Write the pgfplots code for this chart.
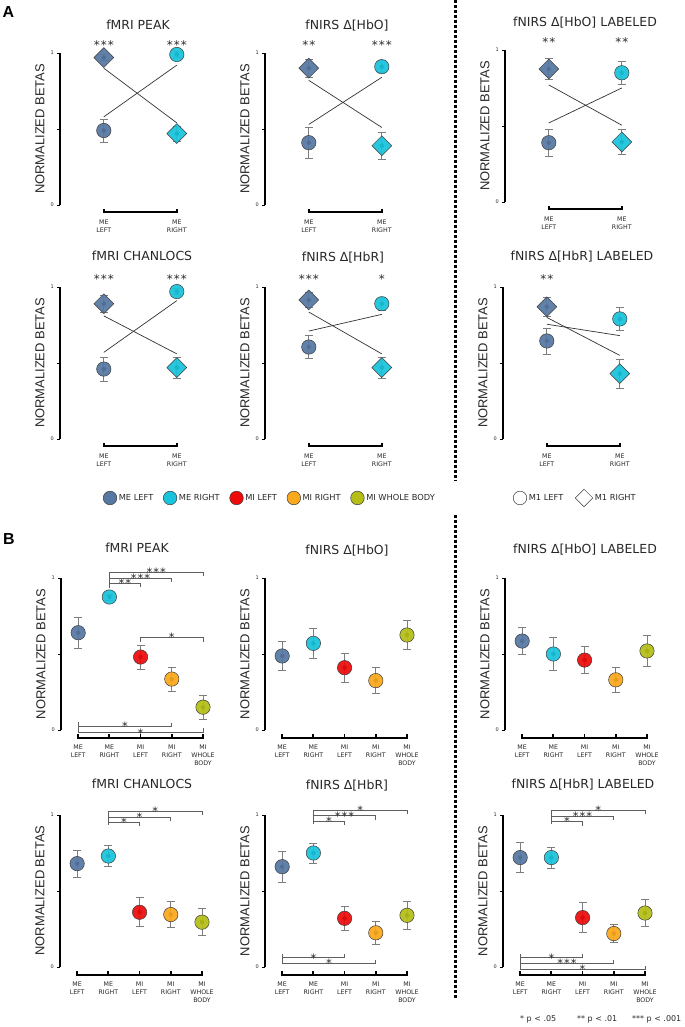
\documentclass[border=0pt]{standalone}
\usepackage{fontspec}
\setmainfont{DejaVu Sans}
\newfontfamily\arialf{Liberation Sans}
\usepackage{pgfplots}
\pgfplotsset{compat=1.18}

\definecolor{meleft}{RGB}{87,120,163}
\definecolor{meright}{RGB}{25,195,220}
\definecolor{mileft}{RGB}{236,12,12}
\definecolor{miright}{RGB}{250,168,28}
\definecolor{miwb}{RGB}{180,190,22}
\definecolor{mborder}{RGB}{60,60,60}
\definecolor{ebgray}{RGB}{125,125,125}
\definecolor{brgray}{RGB}{95,95,95}
\definecolor{txtgray}{RGB}{40,40,40}

\newcommand\fs[1]{\fontsize{#1}{#1}\selectfont}
\newcommand\sA{*}
\newcommand\sB{*\kern1bp*}
\newcommand\sC{*\kern1bp*\kern1bp*}

\pgfplotsset{
  base/.style={
    scale only axis, height=152bp, ymin=0, ymax=1, clip=false,
    axis lines*=left,
    x axis line style={draw=none},
    y axis line style={line width=2bp, black},
    xtick style={draw=none},
    ytick style={line width=0.6bp, black},
    tick align=outside, major tick length=3bp,
    ytick={0,0.5,1}, yticklabels={0,,1},
    yticklabel style={font=\fs{5}, text=txtgray, inner sep=1bp, xshift=-2bp},
    xticklabel style={font=\fontsize{6.3}{7.8}\selectfont, align=center, text=txtgray, inner sep=0pt, yshift=-12bp},
  },
  panelA/.style={base, width=146bp, xmin=0.4, xmax=2.4, xtick={1,2}, xticklabels={ME\\LEFT,ME\\RIGHT}},
  panelB/.style={base, width=157.6bp, xmin=0.45, xmax=5.5, xtick={1,2,3,4,5},
     xticklabels={ME\\LEFT,ME\\RIGHT,MI\\LEFT,MI\\RIGHT,MI\\WHOLE\\BODY}},
  ebar/.style={forget plot, only marks, mark=none,
     error bars/.cd, y dir=both, y explicit,
     error bar style={color=ebgray, line width=0.7bp},
     error mark options={rotate=90, mark size=4bp, color=ebgray, line width=0.7bp}},
  cir/.style={forget plot, only marks, mark=*, mark size=7.2bp,
     mark options={fill=#1, draw=mborder, line width=0.5bp, fill opacity=0.93}},
  dia/.style={forget plot, only marks, mark=square*, mark size=7bp,
     mark options={rotate=45, fill=#1, draw=mborder, line width=0.5bp, fill opacity=0.93}},
  conn/.style={forget plot, no marks, line width=0.7bp, color=black!80},
}

% point with error bar: shape, colour, x, y, err
\newcommand\pt[5]{\addplot[ebar] coordinates {(#3,#4) +- (0,#5)};\addplot[#1=#2] coordinates {(#3,#4)};}
\newcommand\st[3]{\node[font=\fs{12}, text=txtgray, anchor=base, inner sep=0pt, yshift=-7bp] at (axis cs:#1,#2) {#3};}
% bracket: x1, x2, y, y-end at x1, y-end at x2, x of stars, stars
\newcommand\brT[7]{\draw[brgray, line width=0.8bp] (axis cs:#1,#4) -- (axis cs:#1,#3) -- (axis cs:#2,#3) -- (axis cs:#2,#5);
  \node[font=\fs{11.5}, text=txtgray, anchor=base, inner sep=0pt, yshift=-4.3bp] at (axis cs:#6,#3) {#7};}
\newcommand\axA{\draw[line width=1.8bp] (axis cs:1,-0.026) -- (axis cs:1,-0.048) -- (axis cs:2,-0.048) -- (axis cs:2,-0.026);}
\newcommand\axB{\draw[line width=1.8bp] (axis cs:1,-0.028) -- (axis cs:1,-0.055) -- (axis cs:5,-0.055) -- (axis cs:5,-0.028)
  (axis cs:2,-0.055) -- (axis cs:2,-0.028) (axis cs:3,-0.055) -- (axis cs:3,-0.028) (axis cs:4,-0.055) -- (axis cs:4,-0.028);}
\newcommand\ttl[3]{\node[font=\fs{12.5}, text=txtgray, anchor=base] at (#1bp,#2bp) {#3};}
\newcommand\yl[2]{\node[font=\arialf\fs{13}, text=txtgray, rotate=90, inner sep=0pt] at (#1bp,#2bp) {NORMALIZED BETAS};}

\begin{document}
\begin{tikzpicture}
\fill[white] (0,0) rectangle (685bp,1027bp);

% ================= PANEL A =================
% fMRI PEAK
\begin{axis}[panelA, at={(60bp,822bp)}, anchor=south west]
\axA
\addplot[conn] coordinates {(1,0.90) (2,0.54)};
\addplot[conn] coordinates {(1,0.58) (2,0.92)};
\pt{cir}{meleft}{1}{0.49}{0.075}
\pt{cir}{meright}{2}{0.99}{0.02}
\pt{dia}{meleft}{1}{0.97}{0.02}
\pt{dia}{meright}{2}{0.47}{0.05}
\st{1}{1.066}{\sC}
\st{2}{1.066}{\sC}
\end{axis}

% fNIRS HbO
\begin{axis}[panelA, at={(265bp,822bp)}, anchor=south west]
\axA
\addplot[conn] coordinates {(1,0.82) (2,0.51)};
\addplot[conn] coordinates {(1,0.53) (2,0.84)};
\pt{cir}{meleft}{1}{0.41}{0.10}
\pt{cir}{meright}{2}{0.91}{0.04}
\pt{dia}{meleft}{1}{0.90}{0.06}
\pt{dia}{meright}{2}{0.39}{0.09}
\st{1}{1.066}{\sB}
\st{2}{1.066}{\sC}
\end{axis}

% fNIRS HbO LABELED
\begin{axis}[panelA, at={(505bp,825bp)}, anchor=south west]
\axA
\addplot[conn] coordinates {(1,0.77) (2,0.505)};
\addplot[conn] coordinates {(1,0.52) (2,0.75)};
\pt{cir}{meleft}{1}{0.39}{0.09}
\pt{cir}{meright}{2}{0.85}{0.075}
\pt{dia}{meleft}{1}{0.875}{0.07}
\pt{dia}{meright}{2}{0.395}{0.08}
\st{1}{1.066}{\sB}
\st{2}{1.066}{\sB}
\end{axis}

% fMRI CHANLOCS
\begin{axis}[panelA, at={(60bp,588bp)}, anchor=south west]
\axA
\addplot[conn] coordinates {(1,0.81) (2,0.56)};
\addplot[conn] coordinates {(1,0.57) (2,0.91)};
\pt{cir}{meleft}{1}{0.46}{0.08}
\pt{cir}{meright}{2}{0.97}{0.02}
\pt{dia}{meleft}{1}{0.89}{0.055}
\pt{dia}{meright}{2}{0.47}{0.07}
\st{1}{1.066}{\sC}
\st{2}{1.066}{\sC}
\end{axis}

% fNIRS HbR
\begin{axis}[panelA, at={(265bp,588bp)}, anchor=south west]
\axA
\addplot[conn] coordinates {(1,0.835) (2,0.56)};
\addplot[conn] coordinates {(1,0.71) (2,0.82)};
\pt{cir}{meleft}{1}{0.605}{0.075}
\pt{cir}{meright}{2}{0.89}{0.045}
\pt{dia}{meleft}{1}{0.915}{0.05}
\pt{dia}{meright}{2}{0.47}{0.07}
\st{1}{1.066}{\sC}
\st{2}{1.066}{\sA}
\end{axis}

% fNIRS HbR LABELED
\begin{axis}[panelA, at={(503bp,588bp)}, anchor=south west]
\axA
\addplot[conn] coordinates {(1,0.80) (2,0.55)};
\addplot[conn] coordinates {(1,0.755) (2,0.68)};
\pt{cir}{meleft}{1}{0.645}{0.085}
\pt{cir}{meright}{2}{0.79}{0.075}
\pt{dia}{meleft}{1}{0.87}{0.06}
\pt{dia}{meright}{2}{0.43}{0.095}
\st{1}{1.066}{\sB}
\end{axis}

% ================= PANEL B =================
% fMRI PEAK
\begin{axis}[panelB, at={(61bp,297bp)}, anchor=south west]
\axB
\brT{2}{3}{0.965}{0.935}{0.94}{2.5}{\sB}
\brT{2}{4}{0.998}{0.935}{0.973}{3}{\sC}
\brT{2}{5}{1.035}{0.935}{1.01}{3.5}{\sC}
\brT{3}{5}{0.61}{0.58}{0.58}{4}{\sA}
\brT{1}{4}{0.022}{0.05}{0.048}{2.5}{\sA}
\brT{1}{5}{-0.018}{0.05}{0.01}{3}{\sA}
\pt{cir}{meleft}{1}{0.64}{0.10}
\pt{cir}{meright}{2}{0.875}{0.02}
\pt{cir}{mileft}{3}{0.48}{0.08}
\pt{cir}{miright}{4}{0.335}{0.08}
\pt{cir}{miwb}{5}{0.15}{0.08}
\end{axis}

% fNIRS HbO
\begin{axis}[panelB, at={(265bp,297bp)}, anchor=south west]
\axB
\pt{cir}{meleft}{1}{0.487}{0.095}
\pt{cir}{meright}{2}{0.57}{0.10}
\pt{cir}{mileft}{3}{0.41}{0.095}
\pt{cir}{miright}{4}{0.325}{0.085}
\pt{cir}{miwb}{5}{0.625}{0.095}
\end{axis}

% fNIRS HbO LABELED
\begin{axis}[panelB, at={(505bp,297bp)}, anchor=south west]
\axB
\pt{cir}{meleft}{1}{0.585}{0.09}
\pt{cir}{meright}{2}{0.50}{0.11}
\pt{cir}{mileft}{3}{0.46}{0.09}
\pt{cir}{miright}{4}{0.33}{0.08}
\pt{cir}{miwb}{5}{0.52}{0.10}
\end{axis}

% fMRI CHANLOCS
\begin{axis}[panelB, at={(60bp,60bp)}, anchor=south west]
\axB
\brT{2}{3}{0.95}{0.935}{0.925}{2.5}{\sA}
\brT{2}{4}{0.987}{0.935}{0.962}{3}{\sA}
\brT{2}{5}{1.026}{0.935}{1.0}{3.5}{\sA}
\pt{cir}{meleft}{1}{0.68}{0.09}
\pt{cir}{meright}{2}{0.73}{0.07}
\pt{cir}{mileft}{3}{0.36}{0.095}
\pt{cir}{miright}{4}{0.345}{0.085}
\pt{cir}{miwb}{5}{0.295}{0.09}
\end{axis}

% fNIRS HbR
\begin{axis}[panelB, at={(265bp,60bp)}, anchor=south west]
\axB
\brT{2}{3}{0.96}{0.94}{0.935}{2.5}{\sA}
\brT{2}{4}{0.995}{0.94}{0.97}{3}{\sC}
\brT{2}{5}{1.033}{0.94}{1.008}{3.5}{\sA}
\brT{1}{3}{0.061}{0.085}{0.083}{2}{\sA}
\brT{1}{4}{0.024}{0.085}{0.046}{2.5}{\sA}
\pt{cir}{meleft}{1}{0.66}{0.10}
\pt{cir}{meright}{2}{0.75}{0.065}
\pt{cir}{mileft}{3}{0.32}{0.08}
\pt{cir}{miright}{4}{0.225}{0.075}
\pt{cir}{miwb}{5}{0.34}{0.09}
\end{axis}

% fNIRS HbR LABELED
\begin{axis}[panelB, at={(503bp,60bp)}, anchor=south west]
\axB
\brT{2}{3}{0.956}{0.94}{0.93}{2.5}{\sA}
\brT{2}{4}{0.993}{0.94}{0.968}{3}{\sC}
\brT{2}{5}{1.033}{0.94}{1.008}{3.5}{\sA}
\brT{1}{3}{0.061}{0.085}{0.083}{2}{\sA}
\brT{1}{4}{0.024}{0.085}{0.046}{2.5}{\sC}
\brT{1}{5}{-0.015}{0.085}{0.007}{3}{\sA}
\pt{cir}{meleft}{1}{0.72}{0.10}
\pt{cir}{meright}{2}{0.72}{0.07}
\pt{cir}{mileft}{3}{0.325}{0.10}
\pt{cir}{miright}{4}{0.22}{0.06}
\pt{cir}{miwb}{5}{0.355}{0.09}
\end{axis}

% ================= LEGENDS =================
\begin{axis}[hide axis, scale only axis, width=685bp, height=1027bp, at={(0bp,0bp)}, anchor=south west,
  xmin=0, xmax=1, ymin=0, ymax=1, legend columns=5,
  legend style={draw=none, fill=none, at={(0.1504,0.5151)}, anchor=west, font=\fs{8.3}, text=txtgray,
    inner sep=0pt, /tikz/every even column/.append style={column sep=8bp}}]
\addlegendimage{only marks, mark=*, mark size=6.8bp, mark options={fill=meleft, draw=mborder, line width=0.5bp}}
\addlegendentry{ME LEFT}
\addlegendimage{only marks, mark=*, mark size=6.8bp, mark options={fill=meright, draw=mborder, line width=0.5bp}}
\addlegendentry{ME RIGHT}
\addlegendimage{only marks, mark=*, mark size=6.8bp, mark options={fill=mileft, draw=mborder, line width=0.5bp}}
\addlegendentry{MI LEFT}
\addlegendimage{only marks, mark=*, mark size=6.8bp, mark options={fill=miright, draw=mborder, line width=0.5bp}}
\addlegendentry{MI RIGHT}
\addlegendimage{only marks, mark=*, mark size=6.8bp, mark options={fill=miwb, draw=mborder, line width=0.5bp}}
\addlegendentry{MI WHOLE BODY}
\end{axis}

\begin{axis}[hide axis, scale only axis, width=685bp, height=1027bp, at={(0bp,0bp)}, anchor=south west,
  xmin=0, xmax=1, ymin=0, ymax=1, legend columns=2,
  legend style={draw=none, fill=none, at={(0.7489,0.5151)}, anchor=west, font=\fs{8.3}, text=txtgray,
    inner sep=0pt, /tikz/every even column/.append style={column sep=10bp}}]
\addlegendimage{only marks, mark=*, mark size=6.8bp, mark options={fill=white, draw=mborder, line width=0.5bp}}
\addlegendentry{M1 LEFT}
\addlegendimage{only marks, mark=square*, mark size=6.2bp, mark options={rotate=45, fill=white, draw=mborder, line width=0.5bp}}
\addlegendentry{M1 RIGHT}
\end{axis}

% ================= TEXT =================
\node[font=\arialf\bfseries\fs{16}, anchor=center] at (8.5bp,1014.5bp) {A};
\node[font=\arialf\bfseries\fs{16}, anchor=center] at (9bp,488bp) {B};

\ttl{138}{997.5}{fMRI PEAK}
\ttl{347}{997.5}{fNIRS Δ[HbO]}
\ttl{585}{1000.5}{fNIRS Δ[HbO] LABELED}
\ttl{142}{766.5}{fMRI CHANLOCS}
\ttl{343}{765.5}{fNIRS Δ[HbR]}
\ttl{582}{766.5}{fNIRS Δ[HbR] LABELED}
\ttl{137}{474.5}{fMRI PEAK}
\ttl{347}{472.5}{fNIRS Δ[HbO]}
\ttl{585}{473.5}{fNIRS Δ[HbO] LABELED}
\ttl{142}{238.5}{fMRI CHANLOCS}
\ttl{347}{237.5}{fNIRS Δ[HbR]}
\ttl{583}{238.5}{fNIRS Δ[HbR] LABELED}

\yl{40}{898}
\yl{245}{898}
\yl{485}{901}
\yl{40}{664}
\yl{245}{664}
\yl{483}{664}
\yl{41}{373}
\yl{245}{373}
\yl{485}{373}
\yl{40}{136.5}
\yl{245}{136}
\yl{483}{136}

\draw[line width=3bp, dash pattern=on 3bp off 2bp] (455bp,1027bp) -- (455bp,546bp);
\draw[line width=3bp, dash pattern=on 3bp off 2bp] (455bp,512bp) -- (455bp,29bp);

\node[font=\fs{8}, text=txtgray, anchor=base west, inner sep=0pt] at (520bp,6bp) {* p < .05};
\node[font=\fs{8}, text=txtgray, anchor=base west, inner sep=0pt] at (577bp,6bp) {** p < .01};
\node[font=\fs{8}, text=txtgray, anchor=base west, inner sep=0pt] at (632bp,6bp) {*** p < .001};

\pgfresetboundingbox
\useasboundingbox (0,0) rectangle (685bp,1027bp);
\end{tikzpicture}
\end{document}
